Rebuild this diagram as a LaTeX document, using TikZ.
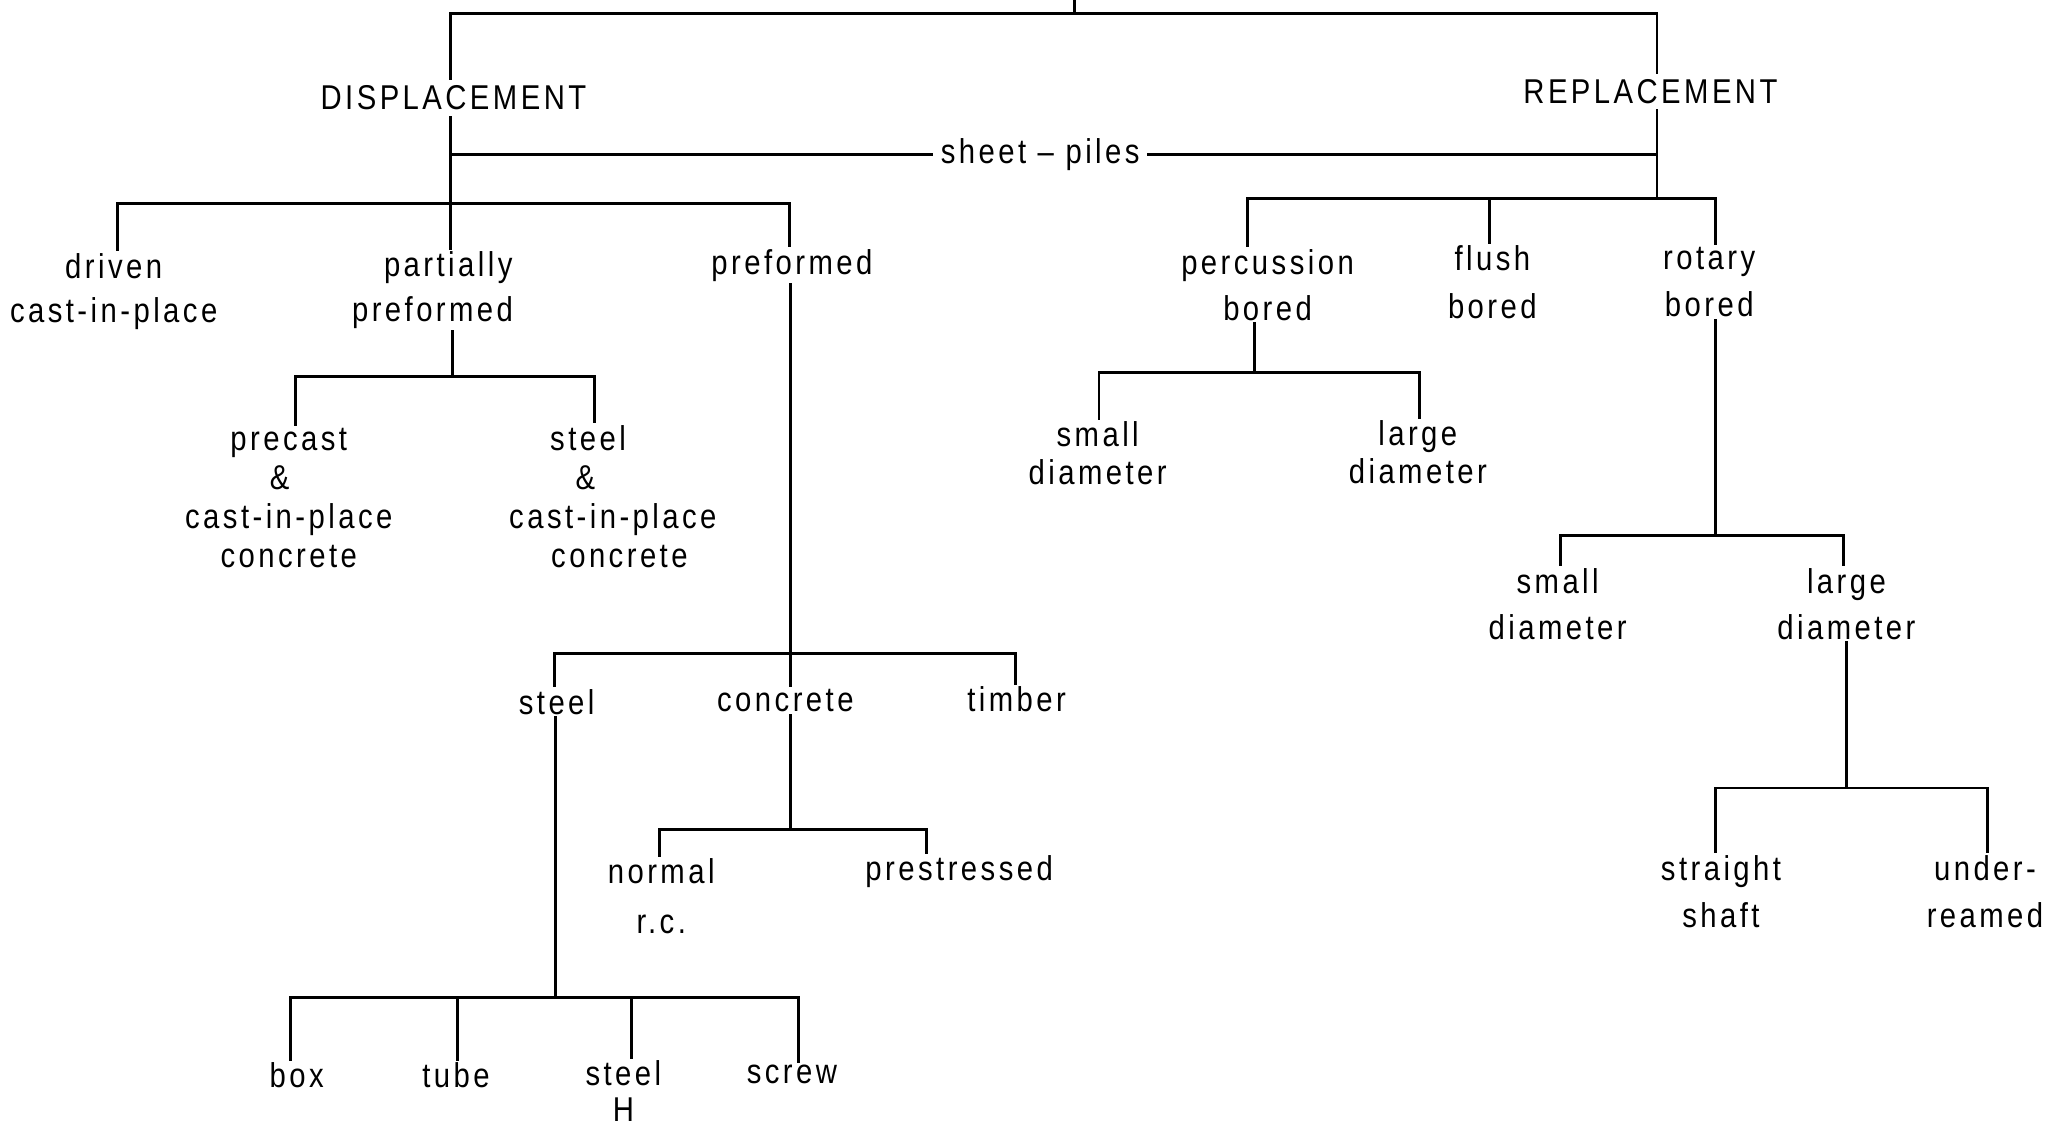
\documentclass[tikz,border=0pt]{standalone}
\usepackage{fontspec}
\setmainfont[FakeStretch=0.85,LetterSpace=10]{Liberation Sans}
\newcommand\labfs[1]{\fontsize{15}{#1}\selectfont}
\newcommand\shiftsp[1]{\rule{#1}{0pt}}
\begin{document}
\begin{tikzpicture}[x=0.02cm,y=-0.02cm,
  lbl/.style={align=center,inner sep=1.5pt,outer sep=0pt,font=\labfs{17}},
  conn/.style={line width=1.3pt,line cap=rect}]
\fill[white] (0,0) rectangle (1568,866);
\useasboundingbox (0,0) rectangle (1568,866);
% ---- nodes
\node[lbl,inner sep=3pt] (disp) at (347,75) {DISPLACEMENT};
\node[lbl,inner sep=3pt] (repl) at (1263,70) {REPLACEMENT};
\node[lbl,inner sep=4pt] (sheet) at (796,118) {sheet – piles};
\node[lbl,font=\labfs{19.4}] (driven) at (87,223) {driven\\cast-in-place};
\node[lbl,font=\labfs{19.4}] (partial) at (337,222) {\shiftsp{2.4mm}partially\\preformed\shiftsp{2.4mm}};
\node[lbl] (preformed) at (606,203) {preformed};
\node[lbl,font=\labfs{17}] (precast) at (221,381) {precast\\\&\shiftsp{2.8mm}\\cast-in-place\\concrete};
\node[lbl,font=\labfs{17}] (steelcip) at (462,380) {steel\shiftsp{4.8mm}\\\&\shiftsp{5.6mm}\\\shiftsp{2.8mm}cast-in-place\\\shiftsp{4.8mm}concrete};
\node[lbl] (steel) at (426,537) {steel};
\node[lbl] (concrete) at (601,536) {concrete};
\node[lbl] (timber) at (778,535) {timber};
\node[lbl] (box) at (227,823) {box};
\node[lbl] (tube) at (349,823) {tube};
\node[lbl,font=\labfs{15.4}] (steelH) at (477,835) {steel\\H};
\node[lbl] (screw) at (606,822) {screw};
\node[lbl,font=\labfs{21.6}] (normal) at (506,686) {normal\\r.c.};
\node[lbl] (prest) at (734,667) {prestressed};
\node[lbl,font=\labfs{20}] (percussion) at (970,218) {percussion\\bored};
\node[lbl,font=\labfs{21}] (flush) at (1142,216) {flush\\bored};
\node[lbl,font=\labfs{20.5}] (rotary) at (1308,216) {rotary\\bored};
\node[lbl,font=\labfs{16.5}] (psmall) at (840,347) {small\\diameter};
\node[lbl,font=\labfs{16.5}] (plarge) at (1085,346) {large\\diameter};
\node[lbl,font=\labfs{20}] (rsmall) at (1192,462) {small\\diameter};
\node[lbl,font=\labfs{20}] (rlarge) at (1413,462) {large\\diameter};
\node[lbl,font=\labfs{20.5}] (straight) at (1317,682) {straight\\shaft};
\node[lbl,font=\labfs{20.5}] (under) at (1519,682) {under-\\reamed};
% ---- junction coordinates
\coordinate (root) at (822,-2);
\coordinate (tL) at (345,10);   \coordinate (tR) at (1268,10);
\coordinate (d1) at (345,156);  \coordinate (d1L) at (90,156);  \coordinate (d1R) at (604,156);
\coordinate (p1) at (346,288);  \coordinate (p1L) at (226,288); \coordinate (p1R) at (455,288);
\coordinate (f1) at (605,500);  \coordinate (f1L) at (424,500); \coordinate (f1R) at (777,500);
\coordinate (s1) at (425,763);  \coordinate (s1L) at (222,763); \coordinate (s1R) at (611,763);
\coordinate (s1a) at (350,763); \coordinate (s1b) at (483,763);
\coordinate (c1) at (605,635);  \coordinate (c1L) at (505,635); \coordinate (c1R) at (709,635);
\coordinate (r1) at (1268,152); \coordinate (r1L) at (955,152); \coordinate (r1R) at (1313,152);
\coordinate (r1m) at (1140,152);
\coordinate (q1) at (960,285);  \coordinate (q1L) at (841,285); \coordinate (q1R) at (1086,285);
\coordinate (o1) at (1313,410); \coordinate (o1L) at (1194,410); \coordinate (o1R) at (1411,410);
\coordinate (l1) at (1413,603); \coordinate (l1L) at (1313,603); \coordinate (l1R) at (1521,603);
% ---- connectors
\draw[conn] (root) -- (root |- tL);
\draw[conn] (disp.north -| tL) -- (tL) -- (tR) -- (repl.north -| tR);
% displacement
\draw[conn] (disp.south -| d1) -- (partial.north -| d1);
\draw[conn] (sheet.west) -- (sheet.west -| d1);
\draw[conn] (sheet.east) -- (sheet.east -| tR);
\draw[conn] (d1L |- driven.north) -- (d1L) -- (d1R) -- (d1R |- preformed.north);
\draw[conn] (partial.south -| p1) -- (p1);
\draw[conn] (p1L |- precast.north) -- (p1L) -- (p1R) -- (p1R |- steelcip.north);
\draw[conn] (preformed.south -| f1) -- (concrete.north -| f1);
\draw[conn] (f1L |- steel.north) -- (f1L) -- (f1R) -- (f1R |- timber.north);
\draw[conn] (steel.south -| s1) -- (s1);
\draw[conn] (s1L |- box.north) -- (s1L) -- (s1R) -- (s1R |- screw.north);
\draw[conn] (s1a) -- (s1a |- tube.north);
\draw[conn] (s1b) -- (s1b |- steelH.north);
\draw[conn] (concrete.south -| c1) -- (c1);
\draw[conn] (c1L |- normal.north) -- (c1L) -- (c1R) -- (c1R |- prest.north);
% replacement
\draw[conn] (repl.south -| r1) -- (r1);
\draw[conn] (r1L |- percussion.north) -- (r1L) -- (r1R) -- (r1R |- rotary.north);
\draw[conn] (r1m) -- (r1m |- flush.north);
\draw[conn] (percussion.south -| q1) -- (q1);
\draw[conn] (q1L |- psmall.north) -- (q1L) -- (q1R) -- (q1R |- plarge.north);
\draw[conn] (rotary.south -| o1) -- (o1);
\draw[conn] (o1L |- rsmall.north) -- (o1L) -- (o1R) -- (o1R |- rlarge.north);
\draw[conn] (rlarge.south -| l1) -- (l1);
\draw[conn] (l1L |- straight.north) -- (l1L) -- (l1R) -- (l1R |- under.north);
\end{tikzpicture}
\end{document}
